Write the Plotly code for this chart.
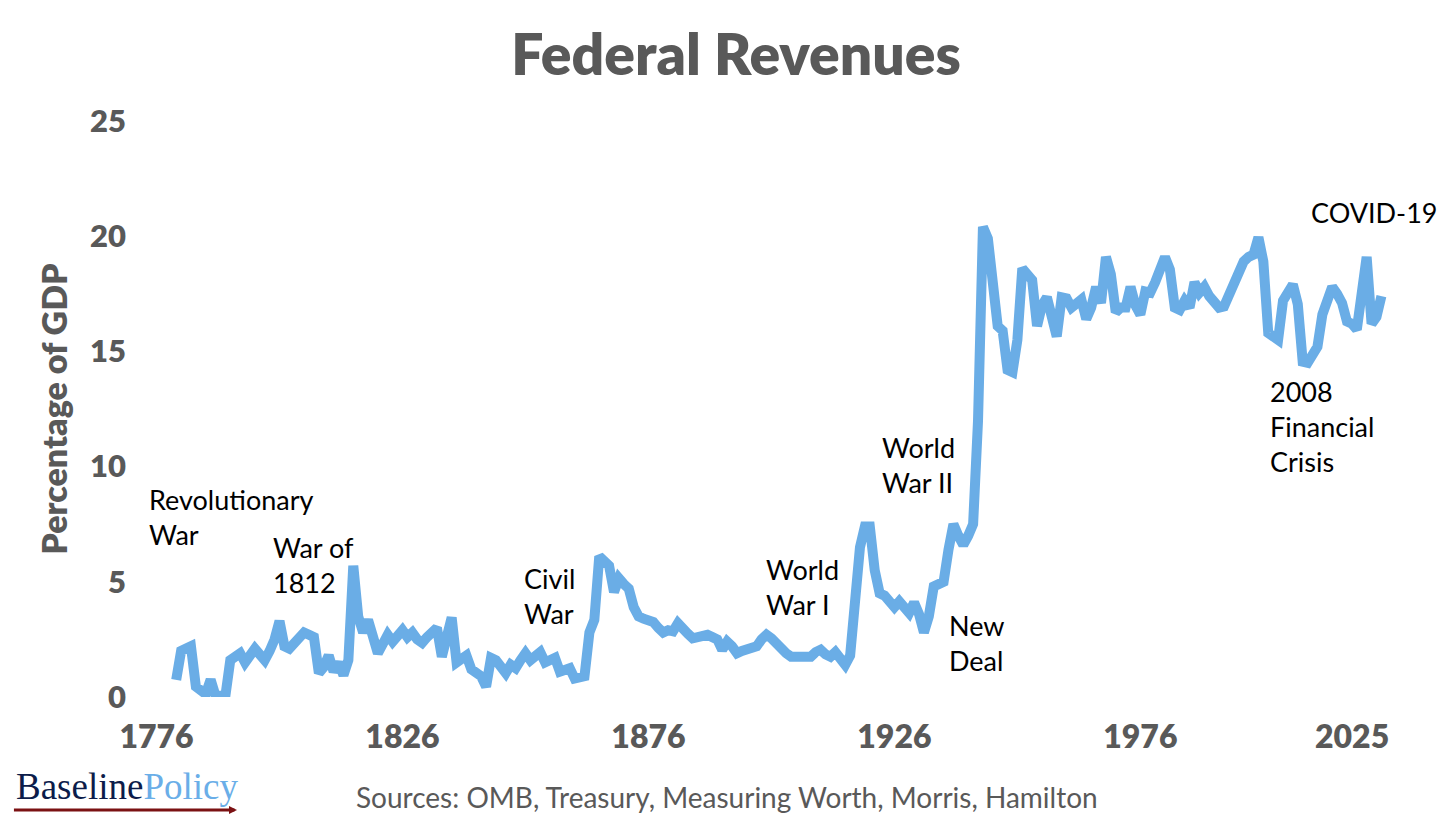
import plotly.graph_objects as go

# Federal revenues as a share of GDP (one point per year)
years = list(range(1780, 2026))
revenue_pct = [
    0.74, 2.0, 2.1, 2.2, 0.45, 0.3, 0.13, 0.75, 0.05, 0.05,          # 1780s
    0.05, 1.6, 1.75, 1.9, 1.5, 1.8, 2.1, 1.85, 1.6, 2.0,             # 1790s
    2.5, 3.3, 2.2, 2.1, 2.3, 2.5, 2.8, 2.7, 2.6, 1.04,               # 1800s
    1.3, 1.8, 1.1, 1.5, 0.95, 1.6, 5.7, 3.5, 2.8, 3.35,              # 1810s
    2.6, 1.9, 2.3, 2.7, 2.4, 2.6, 2.9, 2.6, 2.8, 2.5,                # 1820s
    2.35, 2.6, 2.8, 3.0, 1.75, 2.6, 3.45, 1.5, 1.6, 1.8,             # 1830s
    1.2, 1.05, 0.9, 0.45, 1.7, 1.6, 1.3, 1.04, 1.4, 1.25,            # 1840s
    1.6, 1.9, 1.6, 1.8, 1.95, 1.5, 1.6, 1.7, 1.1, 1.2,               # 1850s
    1.25, 0.8, 0.85, 0.9, 2.8, 3.35, 6.1, 5.9, 5.7, 4.55,            # 1860s
    5.15, 4.9, 4.7, 3.9, 3.5, 3.4, 3.35, 3.25, 3.0, 2.8,             # 1870s
    2.9, 2.85, 3.2, 2.9, 2.75, 2.55, 2.6, 2.65, 2.7, 2.6,            # 1880s
    2.5, 2.05, 2.4, 2.2, 1.9, 2.0, 2.05, 2.05, 2.2, 2.5,             # 1890s
    2.7, 2.55, 2.3, 2.1, 1.9, 1.75, 1.75, 1.8, 1.8, 1.75,            # 1900s
    1.95, 2.05, 1.85, 1.75, 1.95, 1.7, 1.4, 1.8, 4.2, 6.5,           # 1910s
    7.4, 7.4, 5.5, 4.5, 4.4, 4.2, 3.9, 4.15, 3.9, 3.65,              # 1920s
    4.1, 3.6, 2.8, 3.5, 4.8, 4.9, 5.0, 6.4, 7.5, 7.0,                # 1930s
    6.6, 7.0, 7.5, 12.0, 20.4, 19.9, 17.5, 16.1, 15.9, 14.2,         # 1940s
    14.1, 15.5, 18.6, 18.4, 18.1, 16.1, 17.0, 17.35, 16.5, 15.65,    # 1950s
    17.35, 17.3, 16.9, 17.1, 17.25, 16.4, 16.9, 17.8, 17.1, 19.1,    # 1960s
    18.35, 16.7, 16.9, 16.9, 17.8, 17.0, 16.6, 17.6, 17.55, 18.0,    # 1970s
    18.5, 19.1, 18.55, 16.9, 16.8, 17.2, 16.9, 18.0, 17.55, 17.8,    # 1980s
    17.4, 17.2, 16.9, 16.95, 17.5, 18.05, 18.4, 18.9, 19.1, 19.2,    # 1990s
    19.95, 18.9, 15.8, 15.6, 15.5, 17.2, 17.6, 17.9, 17.05, 14.55,   # 2000s
    14.5, 14.9, 15.2, 16.6, 17.3, 17.8, 17.5, 17.1, 16.3, 16.2,      # 2010s
    15.95, 17.6, 19.1, 16.2, 16.5, 17.4,                             # 2020s
]

x_ticks = [1776, 1826, 1876, 1926, 1976]
y_ticks = [0, 5, 10, 15, 20, 25]
last_label = "2025"

event_labels = [
    "Revolutionary<br>War",
    "War of<br>1812",
    "Civil<br>War",
    "World<br>War I",
    "World<br>War II",
    "New<br>Deal",
    "2008<br>Financial<br>Crisis",
    "COVID-19",
]

GRAY = "#595959"
BLUE = "#6aade6"

fig = go.Figure()
fig.add_trace(go.Scatter(
    x=years, y=revenue_pct, mode="lines",
    line=dict(color=BLUE, width=10),
    hovertemplate="%{x}: %{y:.1f}%<extra></extra>",
    showlegend=False,
))

# label placement (year, value) for each event, left edge of text
event_pos = [(1774.1, 7.8), (1799.3, 5.75), (1850.3, 4.38), (1899.5, 4.77),
             (1923.1, 10.07), (1936.7, 2.34), (2001.9, 11.72), (2010.3, 21.05)]
for txt, (ex, ey) in zip(event_labels, event_pos):
    fig.add_annotation(x=ex, y=ey, text=txt, showarrow=False,
                       xanchor="left", yanchor="middle", align="left",
                       font=dict(family="Lato", size=27, color="black"))

# hand-placed end label, as in the original
fig.add_annotation(xref="paper", yref="paper", x=0.958, y=-0.066, text=last_label,
                   showarrow=False, xanchor="center", yanchor="middle",
                   font=dict(family="Lato", size=32, color=GRAY, weight=800))

# footer: logo and sources
fig.add_annotation(xref="paper", yref="paper", x=-0.0884, y=-0.156,
                   text="<span style='color:#0c1c4a'>Baseline</span>"
                        "<span style='color:#6aaee8'>Policy</span>",
                   showarrow=False, xanchor="left", yanchor="middle",
                   font=dict(family="Liberation Serif", size=37))
fig.add_shape(type="line", xref="paper", yref="paper",
              x0=-0.0884, x1=0.084, y0=-0.196, y1=-0.196,
              line=dict(color="#7b1113", width=3))
fig.add_annotation(xref="paper", yref="paper", x=0.086, y=-0.196, ax=-12, ay=0,
                   text="", showarrow=True, arrowhead=2, arrowsize=0.8,
                   arrowwidth=2, arrowcolor="#7b1113")
fig.add_annotation(xref="paper", yref="paper", x=0.469, y=-0.174,
                   text="Sources: OMB, Treasury, Measuring Worth, Morris, Hamilton",
                   showarrow=False, xanchor="center", yanchor="middle",
                   font=dict(family="Lato", size=28, color=GRAY))

tick_font = dict(family="Lato", size=32, color=GRAY, weight=800)

# the page adds an 8px body margin, so the margins are pulled in by 8px
fig.update_layout(
    template="none",
    width=1456, height=825,
    margin=dict(l=119, r=58, t=113, b=136),
    paper_bgcolor="white", plot_bgcolor="white",
    title=dict(text="Federal Revenues", x=0.5, xanchor="center",
               y=0.943, yanchor="middle",
               font=dict(family="Lato", size=57, color=GRAY, weight=800)),
    xaxis=dict(range=[1770, 2030], tickvals=x_ticks, tickfont=tick_font,
               showgrid=False, zeroline=False, showline=False, ticks="",
               ticklabelstandoff=18, automargin=False),
    yaxis=dict(range=[0, 25], tickvals=y_ticks,
               tickfont=dict(family="Lato", size=31, color=GRAY, weight=800),
               showgrid=False, zeroline=False, showline=False, ticks="",
               automargin=False,
               title=dict(text="Percentage of GDP", standoff=12,
                          font=dict(family="Lato", size=34, color=GRAY, weight=800))),
)

fig.write_html("out.html")
